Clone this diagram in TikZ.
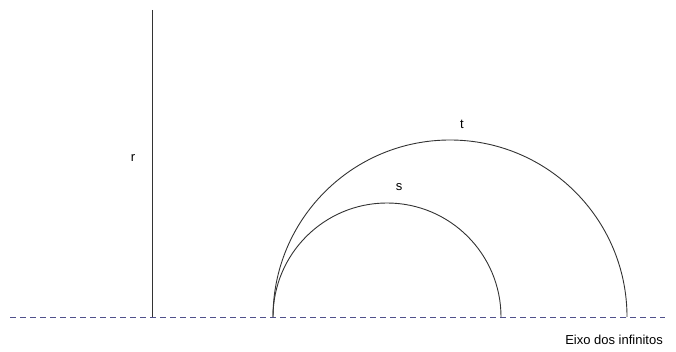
\documentclass[tikz,border=0pt]{standalone}
\usepackage{fontspec}
\setmainfont{Liberation Sans}
\begin{document}
\begin{tikzpicture}[x=1pt,y=-1pt,
  curve/.style={draw=black!80,line width=0.9pt},
  axis/.style={draw={rgb,255:red,80;green,80;blue,140},line width=0.9pt,dash pattern=on 6pt off 4pt},
  lbl/.style={font=\fontsize{13}{15}\selectfont,inner sep=0pt}]
\useasboundingbox (0,0) rectangle (676,352);
\coordinate (axL) at (10,317);
\coordinate (axR) at (665,317);
\coordinate (rtop) at (152,10);
\coordinate (rbot) at (152,317);
\coordinate (p) at (273,317);
\draw[axis] (axL) -- (axR);
\draw[curve] (rtop) -- (rbot);
\draw[curve] (p) arc[start angle=180,end angle=360,radius=114];
\draw[curve] (p) arc[start angle=180,end angle=360,radius=177];
\node[lbl] (r) at (133,158) {r};
\node[lbl] (s) at (399,187) {s};
\node[lbl] (t) at (462,124) {t};
\node[lbl,anchor=east] (eixo) at (663,340) {Eixo dos infinitos};
\end{tikzpicture}
\end{document}
